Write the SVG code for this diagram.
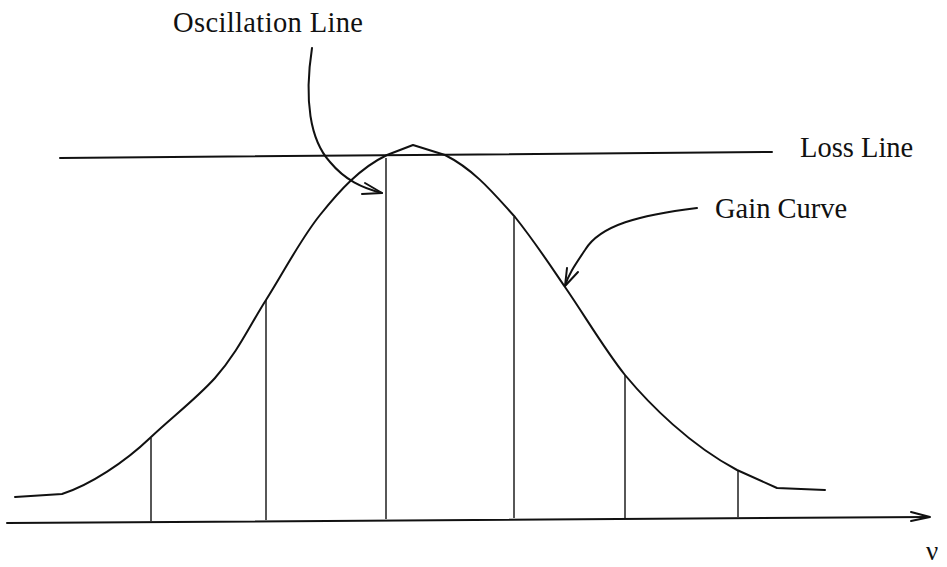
<svg xmlns="http://www.w3.org/2000/svg" width="947" height="567" viewBox="0 0 947 567">
<style>
.lbl{font-family:"Liberation Serif","Times New Roman",serif;font-size:28.5px;fill:#111}
.thick{fill:none;stroke:#111;stroke-width:2;stroke-linejoin:round;stroke-linecap:round}
.thin{fill:none;stroke:#111;stroke-width:1.4}
</style>
<rect width="947" height="567" fill="#fff"/>
<g id="axis">
<path class="thick" d="M7,523 L929,517"/>
<path class="thick" d="M911,512 L930,517 L911,521"/>
<text class="lbl" x="926" y="560" style="font-size:27px">ν</text>
</g>
<g id="loss-line">
<path class="thick" d="M60,158 L772,152"/>
<text class="lbl" x="800" y="157">Loss Line</text>
</g>
<g id="gain-curve">
<path class="thick" d="M15,497 L62,494 C90,485 125,462 150,438 C172,417 195,400 215,378 C238,352 250,325 266,300 C285,270 300,240 320,215 C340,190 360,168 387,155 L413,145 L445,155 C475,170 495,195 515,217 C535,242 550,265 565,287 C585,316 605,350 625,375 C650,405 690,445 737,470 L777,488 L825,490"/>
</g>
<g id="oscillation-lines">
<path class="thin" d="M151,438 V521 M266,300 V520 M386,158 V519 M514,217 V518 M625,375 V518 M738,470 V517"/>
</g>
<g id="connectors">
<path class="thick" d="M312,48 C304,100 310,140 330,162 C345,180 362,188 382,193"/>
<path class="thick" d="M365,183 L382,193 L362,194"/>
<path class="thick" d="M697,208 C640,215 600,225 585,250 C575,265 568,275 565,286"/>
<path class="thick" d="M567,268 L565,286 L578,272"/>
</g>
<g id="labels">
<text class="lbl" x="173" y="32" textLength="190">Oscillation Line</text>
<text class="lbl" x="715" y="218">Gain Curve</text>
</g>
</svg>
